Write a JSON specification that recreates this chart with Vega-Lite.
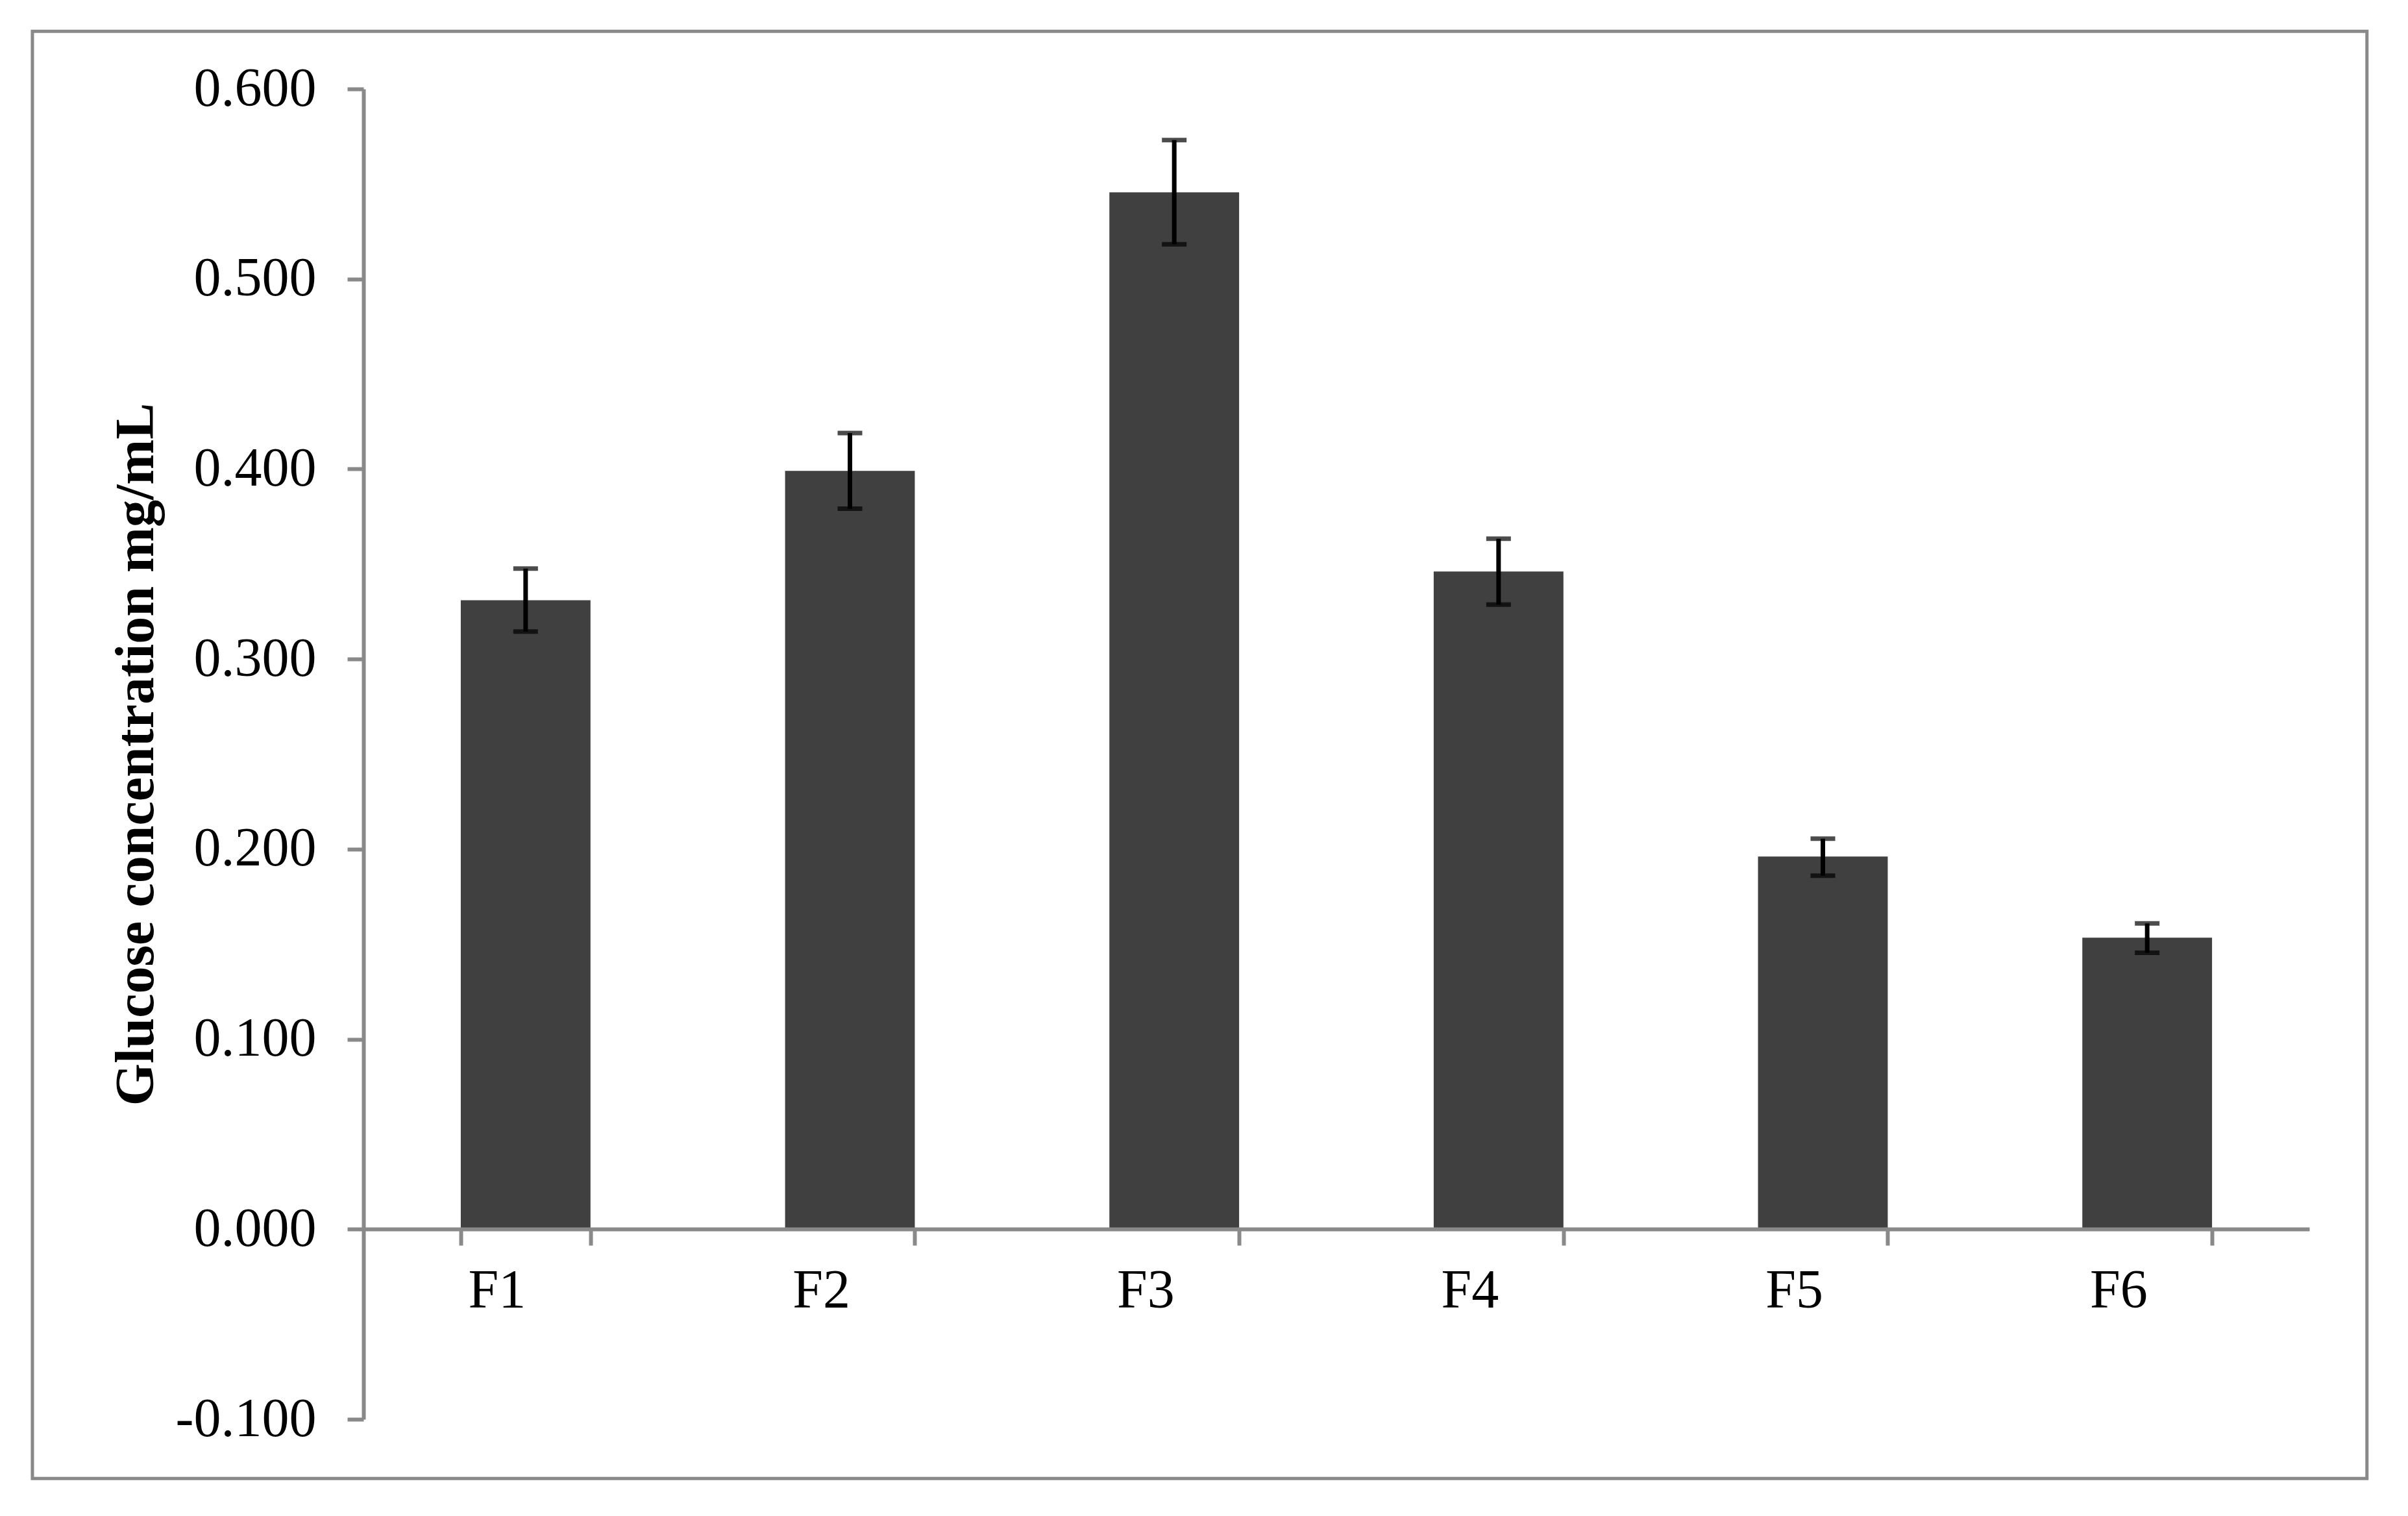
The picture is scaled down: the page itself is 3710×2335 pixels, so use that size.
{
  "$schema": "https://vega.github.io/schema/vega-lite/v6.json",
  "autosize": {"type": "none"},
  "padding": {"left": 560, "top": 137, "right": 152, "bottom": 149},
  "width": 2998,
  "height": 2049,
  "background": "white",
  "config": {"view": {"stroke": null}},
  "data": {"values": [
    {"sample": "F1", "mean": 0.331, "lo": 0.3145, "hi": 0.3476},
    {"sample": "F2", "mean": 0.399, "lo": 0.3791, "hi": 0.4189},
    {"sample": "F3", "mean": 0.5456, "lo": 0.5183, "hi": 0.5731},
    {"sample": "F4", "mean": 0.3461, "lo": 0.3287, "hi": 0.3633},
    {"sample": "F5", "mean": 0.1961, "lo": 0.186, "hi": 0.2055},
    {"sample": "F6", "mean": 0.1534, "lo": 0.1455, "hi": 0.1609}
  ]},
  "layer": [
    {
      "data": {"values": [{"frame": "outer"}]},
      "mark": {"type": "rect", "fill": null, "stroke": "#898989", "strokeWidth": 5, "clip": false},
      "encoding": {
        "x": {"datum": "F1", "type": "nominal", "bandPosition": -3.302},
        "x2": {"datum": "F6", "bandPosition": 2.194},
        "y": {"datum": 0.6303, "type": "quantitative"},
        "y2": {"datum": -0.1312}
      }
    },
    {
      "mark": {"type": "bar", "color": "#404040"},
      "encoding": {
        "x": {
          "field": "sample", "type": "nominal", "sort": null,
          "scale": {"domain": ["F1", "F2", "F3", "F4", "F5", "F6"], "paddingInner": 0.6, "paddingOuter": 0.3},
          "axis": {
            "orient": "bottom", "offset": -293, "tickBand": "extent", "title": null,
            "labelAngle": 0, "labelFont": "Liberation Serif", "labelFontSize": 84,
            "labelColor": "#000000", "labelPadding": 70, "labelLimit": 500,
            "domainColor": "#898989", "domainWidth": 6,
            "tickColor": "#898989", "tickWidth": 6, "tickSize": 25, "grid": false
          }
        },
        "y": {
          "field": "mean", "type": "quantitative",
          "scale": {"domain": [-0.1, 0.6], "nice": false, "zero": false},
          "axis": {
            "values": [-0.1, 0, 0.1, 0.2, 0.3, 0.4, 0.5, 0.6],
            "labelExpr": "datum.value < 0 ? '-' + format(-datum.value, '.3f') : format(datum.value, '.3f')",
            "grid": false,
            "domainColor": "#898989", "domainWidth": 6,
            "tickColor": "#898989", "tickWidth": 6, "tickSize": 25,
            "labelFont": "Liberation Serif", "labelFontSize": 84, "labelColor": "#000000",
            "labelPadding": 48, "labelLimit": 500,
            "title": "Glucose concentration mg/mL",
            "titleFont": "Liberation Serif", "titleFontSize": 84, "titleFontWeight": "bold",
            "titleColor": "#000000", "titlePadding": 107
          }
        }
      }
    },
    {
      "mark": {"type": "rule", "color": "#000000", "strokeWidth": 7},
      "encoding": {
        "x": {"field": "sample", "type": "nominal", "sort": null},
        "y": {"field": "lo", "type": "quantitative"},
        "y2": {"field": "hi"}
      }
    },
    {
      "mark": {"type": "tick", "color": "#000000", "size": 38, "thickness": 7, "orient": "horizontal"},
      "encoding": {
        "x": {"field": "sample", "type": "nominal", "sort": null},
        "y": {"field": "lo", "type": "quantitative"}
      }
    },
    {
      "mark": {"type": "tick", "color": "#000000", "size": 38, "thickness": 7, "orient": "horizontal"},
      "encoding": {
        "x": {"field": "sample", "type": "nominal", "sort": null},
        "y": {"field": "hi", "type": "quantitative"}
      }
    }
  ]
}
